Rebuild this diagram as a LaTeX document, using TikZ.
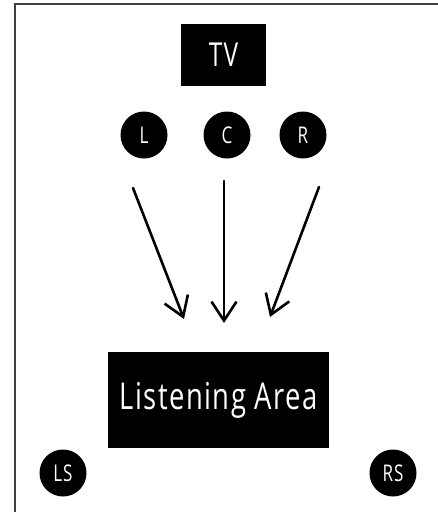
\documentclass[tikz,border=0pt]{standalone}
\usepackage{fontspec}
\setmainfont[FakeStretch=0.74, LetterSpace=4]{Open Sans}
\usetikzlibrary{arrows.meta}

\begin{document}
\begin{tikzpicture}[x=1pt, y=-1pt, line width=2.6pt,
  box/.style = {fill=black, text=white, inner sep=0pt},
  spk/.style = {circle, fill=black, text=white, minimum size=47pt, inner sep=0pt, font=\fontsize{23}{23}\selectfont},
  ray/.style = {-{Straight Barb[length=19pt, width=25pt]}, line cap=round}]
\useasboundingbox (0,0) rectangle (438,512);
\draw[line width=1.5pt, black!75] (15,512) -- (15,4) -- (438,4);

\node[box, minimum width=85pt, minimum height=62pt, font=\fontsize{33}{33}\selectfont] (tv) at (223.5,55) {TV};
\node[spk] (l) at (144,135) {L};
\node[spk] (c) at (227,135) {C};
\node[spk] (r) at (303,135) {R};
\node[box, minimum width=221pt, minimum height=96pt, font=\fontsize{37}{37}\selectfont] (area) at (218.5,400) {Listening Area};
\node[spk] (ls) at (63,473) {LS};
\node[spk] (rs) at (393,473) {RS};

% rays toward the listening area
\coordinate (lTail) at (133,188);
\coordinate (lHead) at (184,319);
\coordinate (cTail) at (224,181);
\coordinate (cHead) at (224,323);
\coordinate (rTail) at (319,187);
\coordinate (rHead) at (270,317);
\draw[ray] (lTail) -- (lHead);
\draw[ray] (cTail) -- (cHead);
\draw[ray] (rTail) -- (rHead);
\end{tikzpicture}
\end{document}
